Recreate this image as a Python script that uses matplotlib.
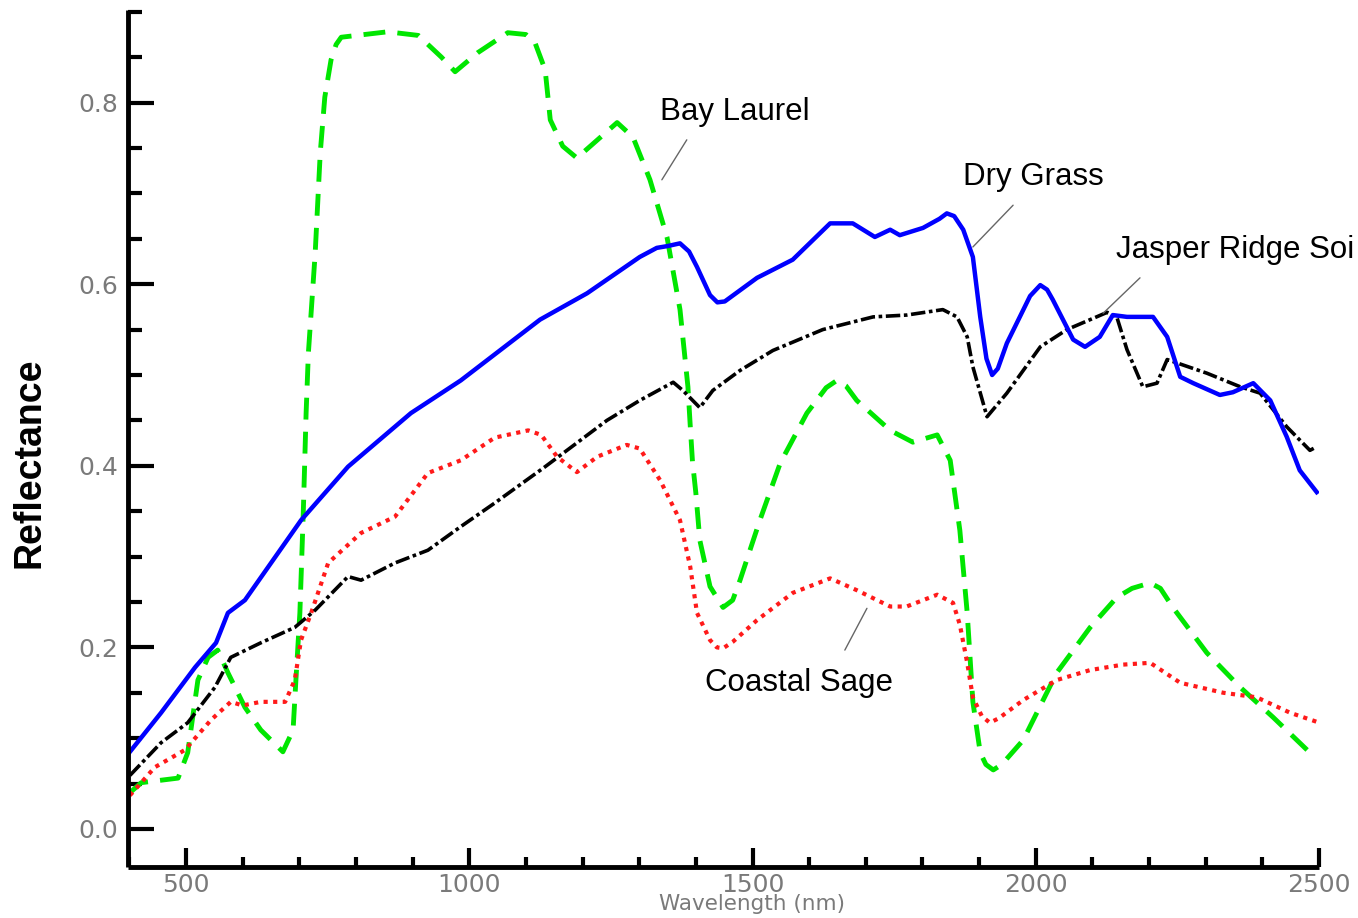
import matplotlib
matplotlib.use("Agg")
import matplotlib.pyplot as plt
from matplotlib.ticker import MultipleLocator, FixedLocator

# ---------------- data ----------------
wl_grass = [401, 456, 516, 553, 574, 604, 703, 786, 897, 985, 1125, 1208, 1301, 1331, 1350,
            1372, 1388, 1402, 1425, 1438, 1451, 1508, 1571, 1637, 1677, 1716, 1743, 1760,
            1801, 1830, 1843, 1856, 1872, 1889, 1902, 1913, 1923, 1933, 1949, 1990, 2008,
            2020, 2030, 2066, 2087, 2113, 2136, 2161, 2207, 2232, 2255, 2278, 2325, 2348,
            2384, 2414, 2443, 2466, 2496]
r_grass = [0.085, 0.128, 0.178, 0.205, 0.238, 0.252, 0.340, 0.399, 0.458, 0.494, 0.561, 0.590,
           0.630, 0.640, 0.642, 0.645, 0.636, 0.619, 0.588, 0.580, 0.581, 0.607, 0.627, 0.667,
           0.667, 0.652, 0.660, 0.654, 0.662, 0.672, 0.678, 0.675, 0.660, 0.630, 0.564, 0.518,
           0.500, 0.507, 0.535, 0.587, 0.599, 0.594, 0.583, 0.539, 0.531, 0.542, 0.566, 0.564,
           0.564, 0.542, 0.498, 0.491, 0.478, 0.481, 0.491, 0.472, 0.432, 0.395, 0.371]

wl_soil = [401, 456, 503, 551, 579, 632, 692, 728, 786, 809, 869, 927, 985, 1045, 1134, 1243,
           1301, 1360, 1377, 1407, 1430, 1478, 1536, 1624, 1713, 1772, 1836, 1861, 1879, 1889,
           1914, 1949, 2008, 2055, 2126, 2143, 2161, 2189, 2214, 2232, 2302, 2361, 2396, 2443,
           2484, 2496]
r_soil = [0.059, 0.095, 0.117, 0.156, 0.189, 0.205, 0.222, 0.241, 0.278, 0.274, 0.293, 0.307,
          0.333, 0.359, 0.399, 0.450, 0.472, 0.492, 0.483, 0.464, 0.483, 0.505, 0.527, 0.550,
          0.564, 0.566, 0.572, 0.564, 0.542, 0.509, 0.454, 0.480, 0.531, 0.550, 0.569, 0.564,
          0.528, 0.487, 0.491, 0.517, 0.502, 0.487, 0.480, 0.443, 0.417, 0.421]

wl_laurel = [401, 421, 486, 503, 521, 539, 556, 574, 604, 632, 671, 689, 694, 701, 707, 712,
             716, 728, 737, 745, 756, 765, 774, 856, 910, 951, 975, 1015, 1068, 1100, 1116,
             1134, 1143, 1165, 1190, 1261, 1289, 1319, 1349, 1372, 1386, 1390, 1394, 1400,
             1407, 1425, 1448, 1465, 1478, 1513, 1549, 1596, 1630, 1649, 1665, 1684, 1743,
             1783, 1826, 1849, 1866, 1879, 1889, 1902, 1912, 1925, 1940, 1978, 2037, 2096,
             2143, 2170, 2202, 2220, 2242, 2302, 2361, 2419, 2479]
r_laurel = [0.040, 0.051, 0.056, 0.084, 0.164, 0.189, 0.197, 0.172, 0.134, 0.109, 0.085, 0.109,
            0.164, 0.238, 0.348, 0.458, 0.524, 0.634, 0.745, 0.806, 0.847, 0.864, 0.872, 0.878,
            0.874, 0.850, 0.834, 0.855, 0.877, 0.875, 0.866, 0.836, 0.781, 0.752, 0.739, 0.778,
            0.762, 0.715, 0.652, 0.572, 0.487, 0.445, 0.405, 0.370, 0.318, 0.267, 0.244, 0.252,
            0.274, 0.340, 0.403, 0.458, 0.486, 0.494, 0.488, 0.472, 0.439, 0.426, 0.434, 0.406,
            0.329, 0.238, 0.140, 0.084, 0.071, 0.065, 0.071, 0.098, 0.172, 0.222, 0.255, 0.265,
            0.271, 0.265, 0.244, 0.194, 0.156, 0.123, 0.087]

wl_sage = [401, 445, 498, 544, 579, 600, 632, 675, 692, 703, 721, 751, 809, 869, 927, 985,
           1045, 1104, 1127, 1155, 1190, 1226, 1278, 1301, 1337, 1372, 1390, 1402, 1425, 1437,
           1448, 1465, 1508, 1571, 1637, 1684, 1743, 1772, 1826, 1854, 1866, 1879, 1889, 1905,
           1919, 1935, 1978, 2037, 2096, 2154, 2202, 2255, 2331, 2390, 2449, 2496]
r_sage = [0.037, 0.068, 0.087, 0.120, 0.140, 0.136, 0.140, 0.140, 0.164, 0.208, 0.238, 0.293,
          0.326, 0.344, 0.392, 0.406, 0.431, 0.439, 0.434, 0.410, 0.393, 0.410, 0.423, 0.419,
          0.384, 0.340, 0.289, 0.238, 0.208, 0.200, 0.199, 0.206, 0.230, 0.260, 0.276, 0.263,
          0.245, 0.245, 0.258, 0.249, 0.225, 0.183, 0.145, 0.124, 0.117, 0.122, 0.142, 0.164,
          0.175, 0.181, 0.183, 0.161, 0.150, 0.145, 0.128, 0.118]

x_ticks = [500, 1000, 1500, 2000, 2500]
y_ticks = [0.0, 0.2, 0.4, 0.6, 0.8]
y_tick_labels = ["0.0", "0.2", "0.4", "0.6", "0.8"]

# ---------------- figure ----------------
W, H = 1358, 918
fig = plt.figure(figsize=(W / 100, H / 100), dpi=100)
fig.patch.set_facecolor("white")
ax = fig.add_axes([128 / W, 1 - 867 / H, (1319 - 128) / W, (867 - 10) / H])
ax.set_facecolor("white")

ax.plot(wl_laurel, r_laurel, color="#00e600", lw=3.5, dashes=(4.5, 2.5), zorder=2,
        dash_joinstyle="round")
ax.plot(wl_sage, r_sage, color="#ff1a1a", lw=3.0, dashes=(1.0, 1.3), zorder=2)
ax.plot(wl_soil, r_soil, color="black", lw=2.6, dashes=(4, 1, 1, 1), zorder=2.2,
        dash_joinstyle="round")
ax.plot(wl_grass, r_grass, color="#0000ff", lw=3.2, zorder=2.4, solid_joinstyle="round")

ax.set_xlim(397.6, 2500)
ax.set_ylim(-0.0419, 0.902)

for s in ("top", "right"):
    ax.spines[s].set_visible(False)
for s in ("left", "bottom"):
    ax.spines[s].set_linewidth(3.5)
    ax.spines[s].set_capstyle("butt")

ax.xaxis.set_major_locator(FixedLocator(x_ticks))
ax.xaxis.set_minor_locator(MultipleLocator(100))
ax.yaxis.set_major_locator(FixedLocator(y_ticks))
ax.set_yticklabels(y_tick_labels)
ax.yaxis.set_minor_locator(FixedLocator([0.05, 0.1, 0.15, 0.25, 0.3, 0.35, 0.45, 0.5, 0.55,
                                         0.65, 0.7, 0.75, 0.85, 0.9]))

ax.tick_params(axis="y", which="major", direction="in", length=19, width=3, pad=7,
               labelsize=18, labelcolor="#7a7a7a")
ax.tick_params(axis="y", which="minor", direction="in", length=10, width=3)
ax.tick_params(axis="x", which="major", direction="in", length=14, width=3, pad=4,
               labelsize=18, labelcolor="#7a7a7a")
ax.tick_params(axis="x", which="minor", direction="in", length=7, width=3)

ax.set_xlabel("Wavelength (nm)", fontsize=15.5, color="#7a7a7a", va="center")
ax.xaxis.set_label_coords((752 - 128) / (1319 - 128), (867 - 904) / (867 - 10))
ax.set_ylabel("Reflectance", fontsize=27, fontweight="bold", family="Liberation Sans",
              va="center")
ax.yaxis.set_label_coords((30 - 128) / (1319 - 128), (867 - 463) / (867 - 10))

box = dict(boxstyle="square,pad=0.3", fc="white", ec="none")
arrow = dict(arrowstyle="-", color="#666666", lw=1.0, shrinkA=0, shrinkB=0)
labels = [
    ("Bay Laurel", (1340, 0.715), (1384, 0.759), (1337, 0.790)),
    ("Dry Grass", (1889, 0.641), (1960, 0.687), (1872, 0.718)),
    ("Jasper Ridge Soi", (2119, 0.568), (2184, 0.607), (2142, 0.638)),
    ("Coastal Sage", (1663, 0.197), (1702, 0.243), (1416, 0.161)),
]
for text, p0, p1, ptxt in labels:
    ax.annotate("", xy=p0, xytext=p1, arrowprops=arrow, annotation_clip=False, zorder=4)
    ax.text(ptxt[0], ptxt[1], text, fontsize=22.5, family="Liberation Sans", ha="left",
            va="center", bbox=box, zorder=3, clip_on=False)

fig.savefig("out.png", dpi=100, facecolor="white")
